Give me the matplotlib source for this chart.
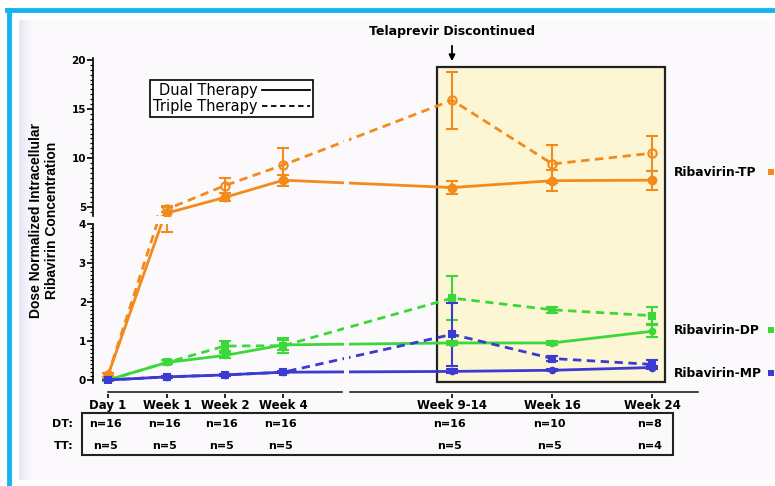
import numpy as np
import matplotlib
matplotlib.use("Agg")
import matplotlib.pyplot as plt
from matplotlib.patches import Rectangle, FancyArrowPatch
from matplotlib.lines import Line2D
import matplotlib.transforms as mtransforms

plt.rcParams['font.family'] = ['DejaVu Sans']

# data
categories = ['Day 1', 'Week 1', 'Week 2', 'Week 4', 'Week 9-14', 'Week 16', 'Week 24']
x_pos = [0, 1, 1.98, 2.97, 5.83, 7.53, 9.22]

tp_dual = [0.12, 4.4, 6.0, 7.75, 7.0, 7.7, 7.75]
tp_dual_err = [0.05, 0.6, 0.4, 0.55, 0.65, 1.1, 0.95]
tp_triple = [0.12, 4.8, 7.2, 9.3, 15.9, 9.4, 10.5]
tp_triple_err = [0.05, 0.3, 0.8, 1.7, 2.9, 1.9, 1.8]

dp_dual = [0.0, 0.45, 0.63, 0.9, 0.95, 0.95, 1.25]
dp_dual_err = [0.02, 0.05, 0.06, 0.12, 0.05, 0.05, 0.15]
dp_triple = [0.0, 0.45, 0.87, 0.88, 2.1, 1.8, 1.65]
dp_triple_err = [0.02, 0.05, 0.12, 0.2, 0.57, 0.08, 0.22]

mp_dual = [0.0, 0.08, 0.13, 0.2, 0.22, 0.25, 0.32]
mp_dual_err = [0.01, 0.02, 0.02, 0.03, 0.05, 0.03, 0.05]
mp_triple = [0.0, 0.08, 0.13, 0.2, 1.17, 0.55, 0.4]
mp_triple_err = [0.01, 0.02, 0.02, 0.03, 0.8, 0.07, 0.1]

dt_n = [16, 16, 16, 16, 16, 10, 8]
tt_n = [5, 5, 5, 5, 5, 5, 4]

ORANGE = '#F28A1C'
GREEN = '#3CD83A'
BLUE = '#3B3BD2'
BG = '#FBF9FC'
W, H = 775, 486


def fx(px):
    return px / W


def fy(py):
    return 1 - py / H


fig = plt.figure(figsize=(7.75, 4.86), dpi=100)
fig.patch.set_facecolor('white')

# slide background + cyan frame
fig.add_artist(Rectangle((fx(19), fy(480)), fx(775) - fx(19), fy(20) - fy(480),
                         transform=fig.transFigure, facecolor=BG, edgecolor='none', zorder=-5))
for i, a in enumerate([0.5, 0.35, 0.22, 0.12]):
    fig.add_artist(Rectangle((fx(19 + 3 * i), fy(480)), fx(3), fy(20) - fy(480),
                             transform=fig.transFigure, facecolor='#D8D6EE', alpha=a,
                             edgecolor='none', zorder=-4))
fig.add_artist(Line2D([fx(9), fx(9)], [fy(10), 0], transform=fig.transFigure,
                      color='#14B4EE', lw=3.5, zorder=10))
fig.add_artist(Line2D([fx(7), 1], [fy(10), fy(10)], transform=fig.transFigure,
                      color='#14B4EE', lw=3.5, zorder=10))

ax_top = fig.add_axes([fx(93), fy(216), fx(710) - fx(93), fy(58) - fy(216)])
ax_bot = fig.add_axes([fx(93), fy(383), fx(710) - fx(93), fy(224) - fy(383)])
xlim = (-0.254, 10.2)

series = [
    (tp_dual, tp_dual_err, ORANGE, '-', 'o', ORANGE, 5.5),
    (tp_triple, tp_triple_err, ORANGE, (0, (3, 2)), 'o', 'none', 6),
    (dp_dual, dp_dual_err, GREEN, '-', 'o', GREEN, 4),
    (dp_triple, dp_triple_err, GREEN, (0, (3, 2)), 's', GREEN, 4.5),
    (mp_dual, mp_dual_err, BLUE, '-', 'o', BLUE, 4),
    (mp_triple, mp_triple_err, BLUE, (0, (3, 2)), 's', BLUE, 4.5),
]

for ax in (ax_top, ax_bot):
    ax.set_facecolor('none')
    ax.set_xlim(*xlim)
    for vals, err, c, ls, mk, mfc, ms in series:
        ax.errorbar(x_pos, vals, yerr=err, color=c, lw=2, ls=ls, marker=mk,
                    ms=ms, mfc=mfc, mec=c, mew=1.5, capsize=4, capthick=1.5,
                    elinewidth=1.5)
    # gap of the broken x axis
    ax.axvspan(4.0, 4.08, color=BG, zorder=5, lw=0)
    for s in ('top', 'right', 'bottom'):
        ax.spines[s].set_visible(False)
    ax.spines['left'].set_linewidth(1.2)
    ax.tick_params(axis='y', which='major', length=4, width=1.2, labelsize=7.5, pad=1)
    ax.tick_params(axis='y', which='minor', length=2.5, width=0.9)

ax_top.set_ylim(4.1, 20.2)
ax_top.set_yticks([5, 10, 15, 20])
ax_top.set_yticks(np.arange(4.5, 20.01, 0.5), minor=True)
ax_top.set_xticks([])

ax_bot.set_ylim(-0.077, 4.0)
ax_bot.set_yticks([0, 1, 2, 3, 4])
ax_bot.set_yticks(np.arange(0, 4.01, 0.1), minor=True)
ax_bot.spines['bottom'].set_position(('outward', 9))
ax_bot.set_xticks(x_pos)
ax_bot.set_xticklabels(categories, fontsize=8.5, fontweight='bold')
ax_bot.tick_params(axis='x', length=3, width=1.2, direction='inout', pad=1)
for ax in (ax_top, ax_bot):
    for t in ax.get_yticklabels():
        t.set_fontweight('bold')

# broken x axis line
xa = mtransforms.blended_transform_factory(ax_bot.transData, fig.transFigure)
for x0, x1 in [(0, 3.97), (4.1, 10.0)]:
    fig.add_artist(Line2D([x0, x1], [fy(392), fy(392)], transform=xa, color='#222222', lw=1.2))

# highlighted period
fig.add_artist(Rectangle((5.58, fy(382)), 9.44 - 5.58, fy(67) - fy(382), transform=xa,
                         facecolor='#FCF6D4', edgecolor='#222222', lw=1.6, zorder=-1))
fig.text(fx(452), fy(31), 'Telaprevir Discontinued', ha='center', va='center',
         fontsize=9, fontweight='bold')
fig.add_artist(FancyArrowPatch((fx(452), fy(43)), (fx(452), fy(64)), transform=fig.transFigure,
                               arrowstyle='-|>', mutation_scale=9, color='black', lw=1.3))

# legend
handles = [Line2D([], [], color='black', lw=1.3),
           Line2D([], [], color='black', lw=1.3, ls=(0, (3, 2)))]
leg = ax_top.legend(handles, ['Dual Therapy', 'Triple Therapy'], markerfirst=False,
                    loc='upper left', frameon=True, fancybox=False,
                    edgecolor='black', fontsize=10.5, handlelength=3.3, handletextpad=0.3,
                    borderpad=0.2, labelspacing=0.05, borderaxespad=0)
leg.set_bbox_to_anchor((fx(150), fy(80)), transform=fig.transFigure)
leg.get_frame().set_linewidth(1.2)
leg.get_frame().set_facecolor('white')
leg.get_frame().set_alpha(1)

# y label
fig.text(fx(44), fy(220), 'Dose Normalized Intracellular\nRibavirin Concentration',
         rotation=90, ha='center', va='center', fontsize=10, fontweight='bold',
         linespacing=1.15, family='Liberation Sans')

# right labels
for label, c, py in [('Ribavirin-TP', ORANGE, 172), ('Ribavirin-DP', GREEN, 330),
                     ('Ribavirin-MP', BLUE, 373)]:
    fig.text(fx(674), fy(py), label, ha='left', va='center', fontsize=8.8, fontweight='bold')
    fig.add_artist(Rectangle((fx(768), fy(py) - 3 / H), 6 / W, 6 / H,
                             transform=fig.transFigure, facecolor=c, edgecolor='none'))

# n table
fig.add_artist(Rectangle((fx(82), fy(455)), fx(673) - fx(82), fy(413) - fy(455),
                         transform=fig.transFigure, facecolor='none', edgecolor='#222222', lw=1.5))
fig.text(fx(73), fy(424), 'DT:', ha='right', va='center', fontsize=8, fontweight='bold')
fig.text(fx(73), fy(446), 'TT:', ha='right', va='center', fontsize=8, fontweight='bold')
for x, d, t in zip(x_pos, dt_n, tt_n):
    fig.text(x - 0.05, fy(424), f'n={d}', transform=xa, ha='center', va='center',
             fontsize=8, fontweight='bold')
    fig.text(x - 0.05, fy(446), f'n={t}', transform=xa, ha='center', va='center',
             fontsize=8, fontweight='bold')

fig.savefig('out.png', dpi=100)
